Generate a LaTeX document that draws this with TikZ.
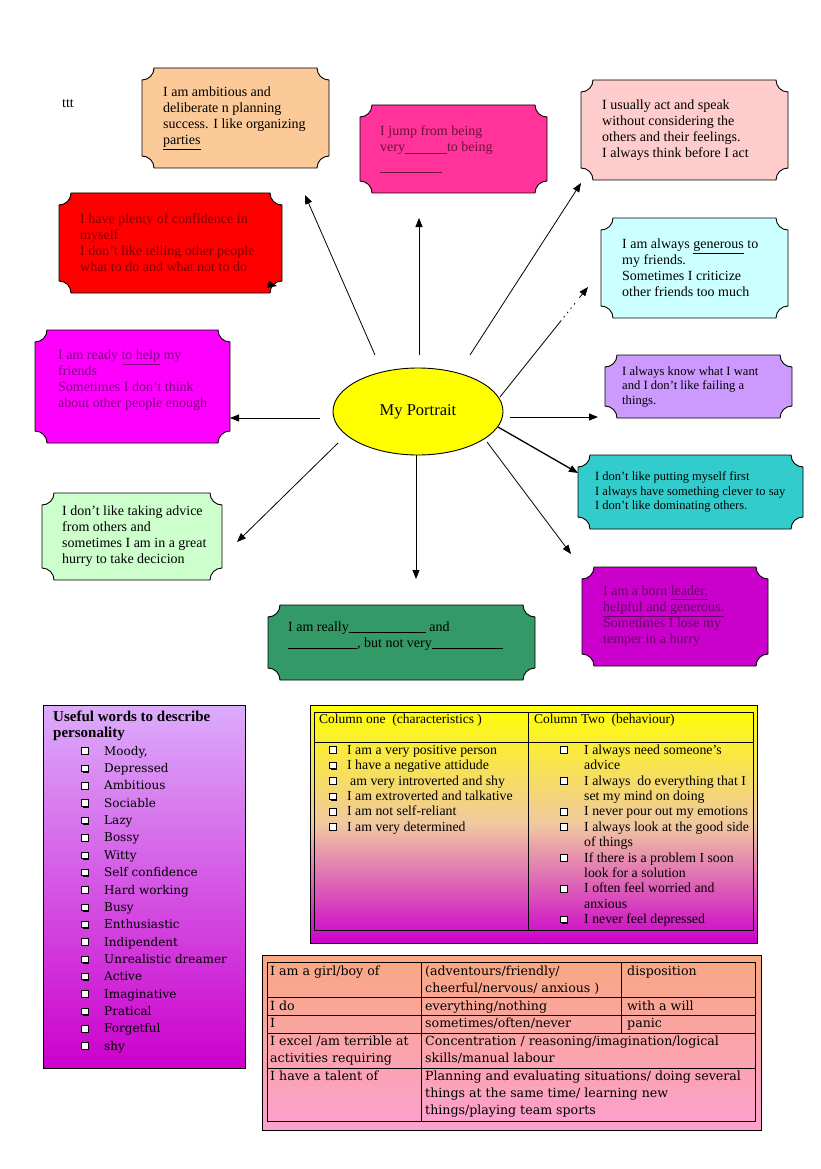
\documentclass[tikz,border=0pt]{standalone}
\usepackage{fontspec}
\setmainfont{Liberation Serif}
\newfontfamily\dvs{DejaVu Serif}
\usetikzlibrary{shapes.geometric,arrows.meta,calc}

\definecolor{cPeach}{RGB}{251,202,152}
\definecolor{cRed}{RGB}{255,0,0}
\definecolor{cRedT}{RGB}{128,0,0}
\definecolor{cJump}{RGB}{255,51,153}
\definecolor{cJumpT}{RGB}{110,20,60}
\definecolor{cAct}{RGB}{255,204,204}
\definecolor{cGen}{RGB}{204,255,255}
\definecolor{cHelp}{RGB}{255,0,255}
\definecolor{cHelpT}{RGB}{128,0,128}
\definecolor{cAdv}{RGB}{204,255,204}
\definecolor{cLav}{RGB}{204,153,255}
\definecolor{cTeal}{RGB}{51,204,204}
\definecolor{cLead}{RGB}{204,0,204}
\definecolor{cLeadT}{RGB}{100,0,100}
\definecolor{cDGreen}{RGB}{51,153,102}
\definecolor{cYel}{RGB}{255,255,0}
\definecolor{lstTop}{RGB}{220,172,252}
\definecolor{lstBot}{RGB}{204,0,204}
\definecolor{tblMid}{RGB}{240,200,160}
\definecolor{tblBot}{RGB}{204,0,204}
\definecolor{btTop}{RGB}{249,168,128}
\definecolor{btBot}{RGB}{252,160,208}

\newcommand\fs[2]{\fontsize{#1}{#2}\selectfont}
\newcommand\fr[1]{\rule{0pt}{#1pt}}
\newcommand\blank[1]{\rule[-1.5pt]{#1}{0.5pt}}
\newcommand\cbox{\tikz[baseline=0pt,x=1pt,y=1pt]{\draw[line width=0.6pt,fill=white] (0,1) rectangle (6.5,7.5); \draw[line width=1.3pt] (1,0.4) -- (7.2,0.4) -- (7.2,6.6);}}
\def\pr{12pt}
\newcommand\plaque[2]{\path[draw=black,line width=0.9pt,fill=#2] ([xshift=\pr]#1.north west) -- ([xshift=-\pr]#1.north east) arc[start angle=180,end angle=270,radius=\pr] -- ([yshift=\pr]#1.south east) arc[start angle=90,end angle=180,radius=\pr] -- ([xshift=\pr]#1.south west) arc[start angle=0,end angle=90,radius=\pr] -- ([yshift=-\pr]#1.north west) arc[start angle=270,end angle=360,radius=\pr] -- cycle;}

\tikzset{
  boxn/.style={rectangle, draw=none, inner sep=0pt, outer sep=0pt},
  txt/.style={anchor=west, align=left, inner sep=0pt, font=\fs{14}{16}},
  tl/.style={anchor=north west, align=left, inner sep=0pt},
  arr/.style={line width=0.8pt, -{Triangle[length=9pt,width=7pt]}},
  panel/.style={draw=black, line width=0.9pt, inner sep=0pt, outer sep=0pt},
}

\begin{document}
\begin{tikzpicture}[x=1pt,y=1pt]
\useasboundingbox (0,0) rectangle (821,-1169);
\fill[white] (0,0) rectangle (821,-1169);

\node[anchor=base west, inner sep=0pt, font=\fs{14}{16}] (ttt) at (62,-108) {ttt};

% ---------- plaques ----------
\node[boxn, minimum width=187pt, minimum height=100pt] (peach) at (235.5,-118) {};
\plaque{peach}{cPeach}
\node[txt] (peachT) at ([xshift=21pt]peach.west) {I am ambitious and\\deliberate n planning\\success. I like organizing\\\underline{parties}};

\node[boxn, minimum width=223pt, minimum height=100pt] (red) at (170.5,-243) {};
\plaque{red}{cRed}
\node[txt, text=cRedT] (redT) at ([xshift=21pt]red.west) {I have plenty of confidence in\\myself\\I don't like telling other people\\what to do and what not to do};

\node[boxn, minimum width=187pt, minimum height=88pt] (jump) at (453.5,-149) {};
\plaque{jump}{cJump}
\node[txt, text=cJumpT] (jumpT) at ([xshift=20pt]jump.west) {I jump from being\\very\blank{42pt}to being\\[3pt]\blank{62pt}};

\node[boxn, minimum width=207pt, minimum height=100pt] (act) at (684.5,-130) {};
\plaque{act}{cAct}
\node[txt] (actT) at ([xshift=21pt]act.west) {I usually act and speak\\without considering the\\others and their feelings.\\I always think before I act};

\node[boxn, minimum width=187pt, minimum height=100pt] (gen) at (694.5,-268) {};
\plaque{gen}{cGen}
\node[txt] (genT) at ([xshift=21pt]gen.west) {I am always \underline{generous} to\\my friends.\\Sometimes I criticize\\other friends too much};

\node[boxn, minimum width=195pt, minimum height=113pt] (help) at (132.5,-386.5) {};
\plaque{help}{cHelp}
\node[txt, text=cHelpT] (helpT) at ([xshift=23pt]help.west) {I am ready \underline{to help} my\\friends\\Sometimes I don't think\\about other people enough\\\mbox{}};

\node[boxn, minimum width=180pt, minimum height=87pt] (adv) at (132,-536.5) {};
\plaque{adv}{cAdv}
\node[txt] (advT) at ([xshift=20pt]adv.west) {I don't like taking advice\\from others and\\sometimes I am in a great\\hurry to take decicion};

\node[boxn, minimum width=187pt, minimum height=63pt] (lav) at (698.5,-386.5) {};
\plaque{lav}{cLav}
\node[txt, font=\fs{12.6}{14.5}] (lavT) at ([xshift=17pt]lav.west) {I always know what I want\\and I don't like failing a\\things.};

\node[boxn, minimum width=225pt, minimum height=74pt] (teal) at (690.5,-492) {};
\plaque{teal}{cTeal}
\node[txt, font=\fs{12.5}{14.5}] (tealT) at ([xshift=17pt]teal.west) {I don't like putting myself first\\I always have something clever to say\\I don't like dominating others.};

\node[boxn, minimum width=186pt, minimum height=99pt] (lead) at (675,-616.5) {};
\plaque{lead}{cLead}
\node[txt, text=cLeadT] (leadT) at ([xshift=21pt]lead.west) {I am a born \underline{leader,}\\\underline{helpful and generous.}\\Sometimes I lose my\\temper in a hurry};

\node[boxn, minimum width=267pt, minimum height=75pt] (dg) at (401.5,-642.5) {};
\plaque{dg}{cDGreen}
\node[txt] (dgT) at ([xshift=20pt]dg.west) {I am really\blank{77pt} and\\\blank{69pt}, but not very\blank{71pt}\\\mbox{}};

% ---------- centre ----------
\node[ellipse, draw=black, line width=0.9pt, fill=cYel, minimum width=170pt, minimum height=87pt, inner sep=0pt, font=\fs{16.5}{18}] (me) at (418,-411.5) {My Portrait};

% ---------- arrows ----------
\coordinate (t1) at (305,-195);
\coordinate (t2) at (419,-218);
\coordinate (t3) at (581,-183);
\coordinate (s4) at ([shift={(82,14.5)}]me.center);
\coordinate (t4) at (588,-287);
\coordinate (t5) at (598,-417);
\coordinate (t6) at (578,-473);
\coordinate (t7) at (571,-554);
\coordinate (t8) at (416,-579);
\coordinate (t9) at (237,-542);
\coordinate (t10) at (230,-418);
\draw[arr] ([shift={(-43,56.5)}]me.center) -- (t1);
\draw[arr] ([shift={(1,56.5)}]me.center) -- (t2);
\draw[arr] ([shift={(52,56.5)}]me.center) -- (t3);
\draw[line width=0.8pt, dash pattern=on 98pt off 4pt on 1.5pt off 4pt on 1.5pt off 4pt on 1.5pt off 4pt on 1.5pt off 60pt] (s4) -- (t4);
\draw[line width=0.8pt, -{Triangle[length=9pt,width=7pt]}, shorten <=6pt] ($(s4)!0.86!(t4)$) -- (t4);
\draw[arr] ([shift={(92,-5.5)}]me.center) -- (t5);
\draw[arr, line width=1.3pt] ([shift={(80,-15.5)}]me.center) -- (t6);
\draw[arr] ([shift={(69,-30.5)}]me.center) -- (t7);
\draw[arr] ([shift={(-2,-43.5)}]me.center) -- (t8);
\draw[arr] ([shift={(-80,-31.5)}]me.center) -- (t9);
\draw[arr] ([shift={(-98,-6.5)}]me.center) -- (t10);
\draw[arr] ([shift={(-15,9)}]red.south east) -- ([shift={(-5,7)}]red.south east);

% ---------- word list ----------
\node[panel, minimum width=202pt, minimum height=363pt, top color=lstTop, bottom color=lstBot] (lst) at (144,-886.5) {};
\node[tl, font=\fs{15}{16}\bfseries] (lstH) at (53,-709) {\fr{12}Useful words to describe\\personality};
\node[tl, font=\dvs\fs{12}{17.35}] (lstI) at (81,-744) {\fr{11}\makebox[23pt][l]{\cbox}Moody,\\
\makebox[23pt][l]{\cbox}Depressed\\
\makebox[23pt][l]{\cbox}Ambitious\\
\makebox[23pt][l]{\cbox}Sociable\\
\makebox[23pt][l]{\cbox}Lazy\\
\makebox[23pt][l]{\cbox}Bossy\\
\makebox[23pt][l]{\cbox}Witty\\
\makebox[23pt][l]{\cbox}Self confidence\\
\makebox[23pt][l]{\cbox}Hard working\\
\makebox[23pt][l]{\cbox}Busy\\
\makebox[23pt][l]{\cbox}Enthusiastic\\
\makebox[23pt][l]{\cbox}Indipendent\\
\makebox[23pt][l]{\cbox}Unrealistic dreamer\\
\makebox[23pt][l]{\cbox}Active\\
\makebox[23pt][l]{\cbox}Imaginative\\
\makebox[23pt][l]{\cbox}Pratical\\
\makebox[23pt][l]{\cbox}Forgetful\\
\makebox[23pt][l]{\cbox}shy};

% ---------- characteristics table ----------
\node[panel, minimum width=447pt, minimum height=238pt, top color=cYel, bottom color=tblBot, middle color=tblMid] (tbl) at (533.5,-824) {};
\draw[line width=0.8pt] (314,-712) rectangle (753,-930);
\draw[line width=0.8pt] (314,-742) -- (753,-742);
\draw[line width=0.8pt] (528,-712) -- (528,-930);
\node[anchor=base west, inner sep=0pt, font=\fs{13.5}{15}] (c1h) at (319,-723) {Column one~~(characteristics )};
\node[anchor=base west, inner sep=0pt, font=\fs{13.5}{15}] (c2h) at (534,-723) {Column Two~~(behaviour)};
\node[tl, font=\fs{13.8}{15.4}] (c1) at (329,-743) {\fr{11}\makebox[18pt][l]{\cbox}I am a very positive person\\
\makebox[18pt][l]{\cbox}I have a negative attidude\\
\makebox[18pt][l]{\cbox}\hspace{3pt}am very introverted and shy\\
\makebox[18pt][l]{\cbox}I am extroverted and talkative\\
\makebox[18pt][l]{\cbox}I am not self-reliant\\
\makebox[18pt][l]{\cbox}I am very determined};
\node[tl, font=\fs{13.8}{15.4}] (c2) at (560,-743) {\fr{11}\makebox[24pt][l]{\cbox}I always need someone's\\
\hspace*{24pt}advice\\
\makebox[24pt][l]{\cbox}I always~ do everything that I\\
\hspace*{24pt}set my mind on doing\\
\makebox[24pt][l]{\cbox}I never pour out my emotions\\
\makebox[24pt][l]{\cbox}I always look at the good side\\
\hspace*{24pt}of things\\
\makebox[24pt][l]{\cbox}If there is a problem I soon\\
\hspace*{24pt}look for a solution\\
\makebox[24pt][l]{\cbox}I often feel worried and\\
\hspace*{24pt}anxious\\
\makebox[24pt][l]{\cbox}I never feel depressed};

% ---------- sentence table ----------
\node[panel, minimum width=499pt, minimum height=175pt, top color=btTop, bottom color=btBot] (bt) at (511.5,-1042.5) {};
\draw[line width=0.8pt] (267,-962) rectangle (755,-1121);
\foreach \yy in {997,1015,1033,1068} \draw[line width=0.8pt] (267,-\yy) -- (755,-\yy);
\draw[line width=0.8pt] (421,-962) -- (421,-1121);
\draw[line width=0.8pt] (621,-962) -- (621,-1033);
\tikzset{bt/.style={tl, font=\dvs\fs{12.6}{17.2}}}
\node[bt] (r1a) at (270,-965) {\fr{10}I am a girl/boy of};
\node[bt] (r1b) at (425,-965) {\fr{10}(adventours/friendly/\\cheerful/nervous/ anxious )};
\node[bt] (r1c) at (627,-965) {\fr{10}disposition};
\node[bt] (r2a) at (270,-1000) {\fr{10}I do};
\node[bt] (r2b) at (425,-1000) {\fr{10}everything/nothing};
\node[bt] (r2c) at (627,-1000) {\fr{10}with a will};
\node[bt] (r3a) at (270,-1017) {\fr{10}I};
\node[bt] (r3b) at (425,-1017) {\fr{10}sometimes/often/never};
\node[bt] (r3c) at (627,-1017) {\fr{10}panic};
\node[bt] (r4a) at (270,-1035) {\fr{10}I excel /am terrible at\\activities requiring};
\node[bt] (r4b) at (425,-1035) {\fr{10}Concentration / reasoning/imagination/logical\\skills/manual labour};
\node[bt] (r5a) at (270,-1070) {\fr{10}I have a talent of};
\node[bt] (r5b) at (425,-1070) {\fr{10}Planning and evaluating situations/ doing several\\things at the same time/ learning new\\things/playing team sports};
\end{tikzpicture}
\end{document}
